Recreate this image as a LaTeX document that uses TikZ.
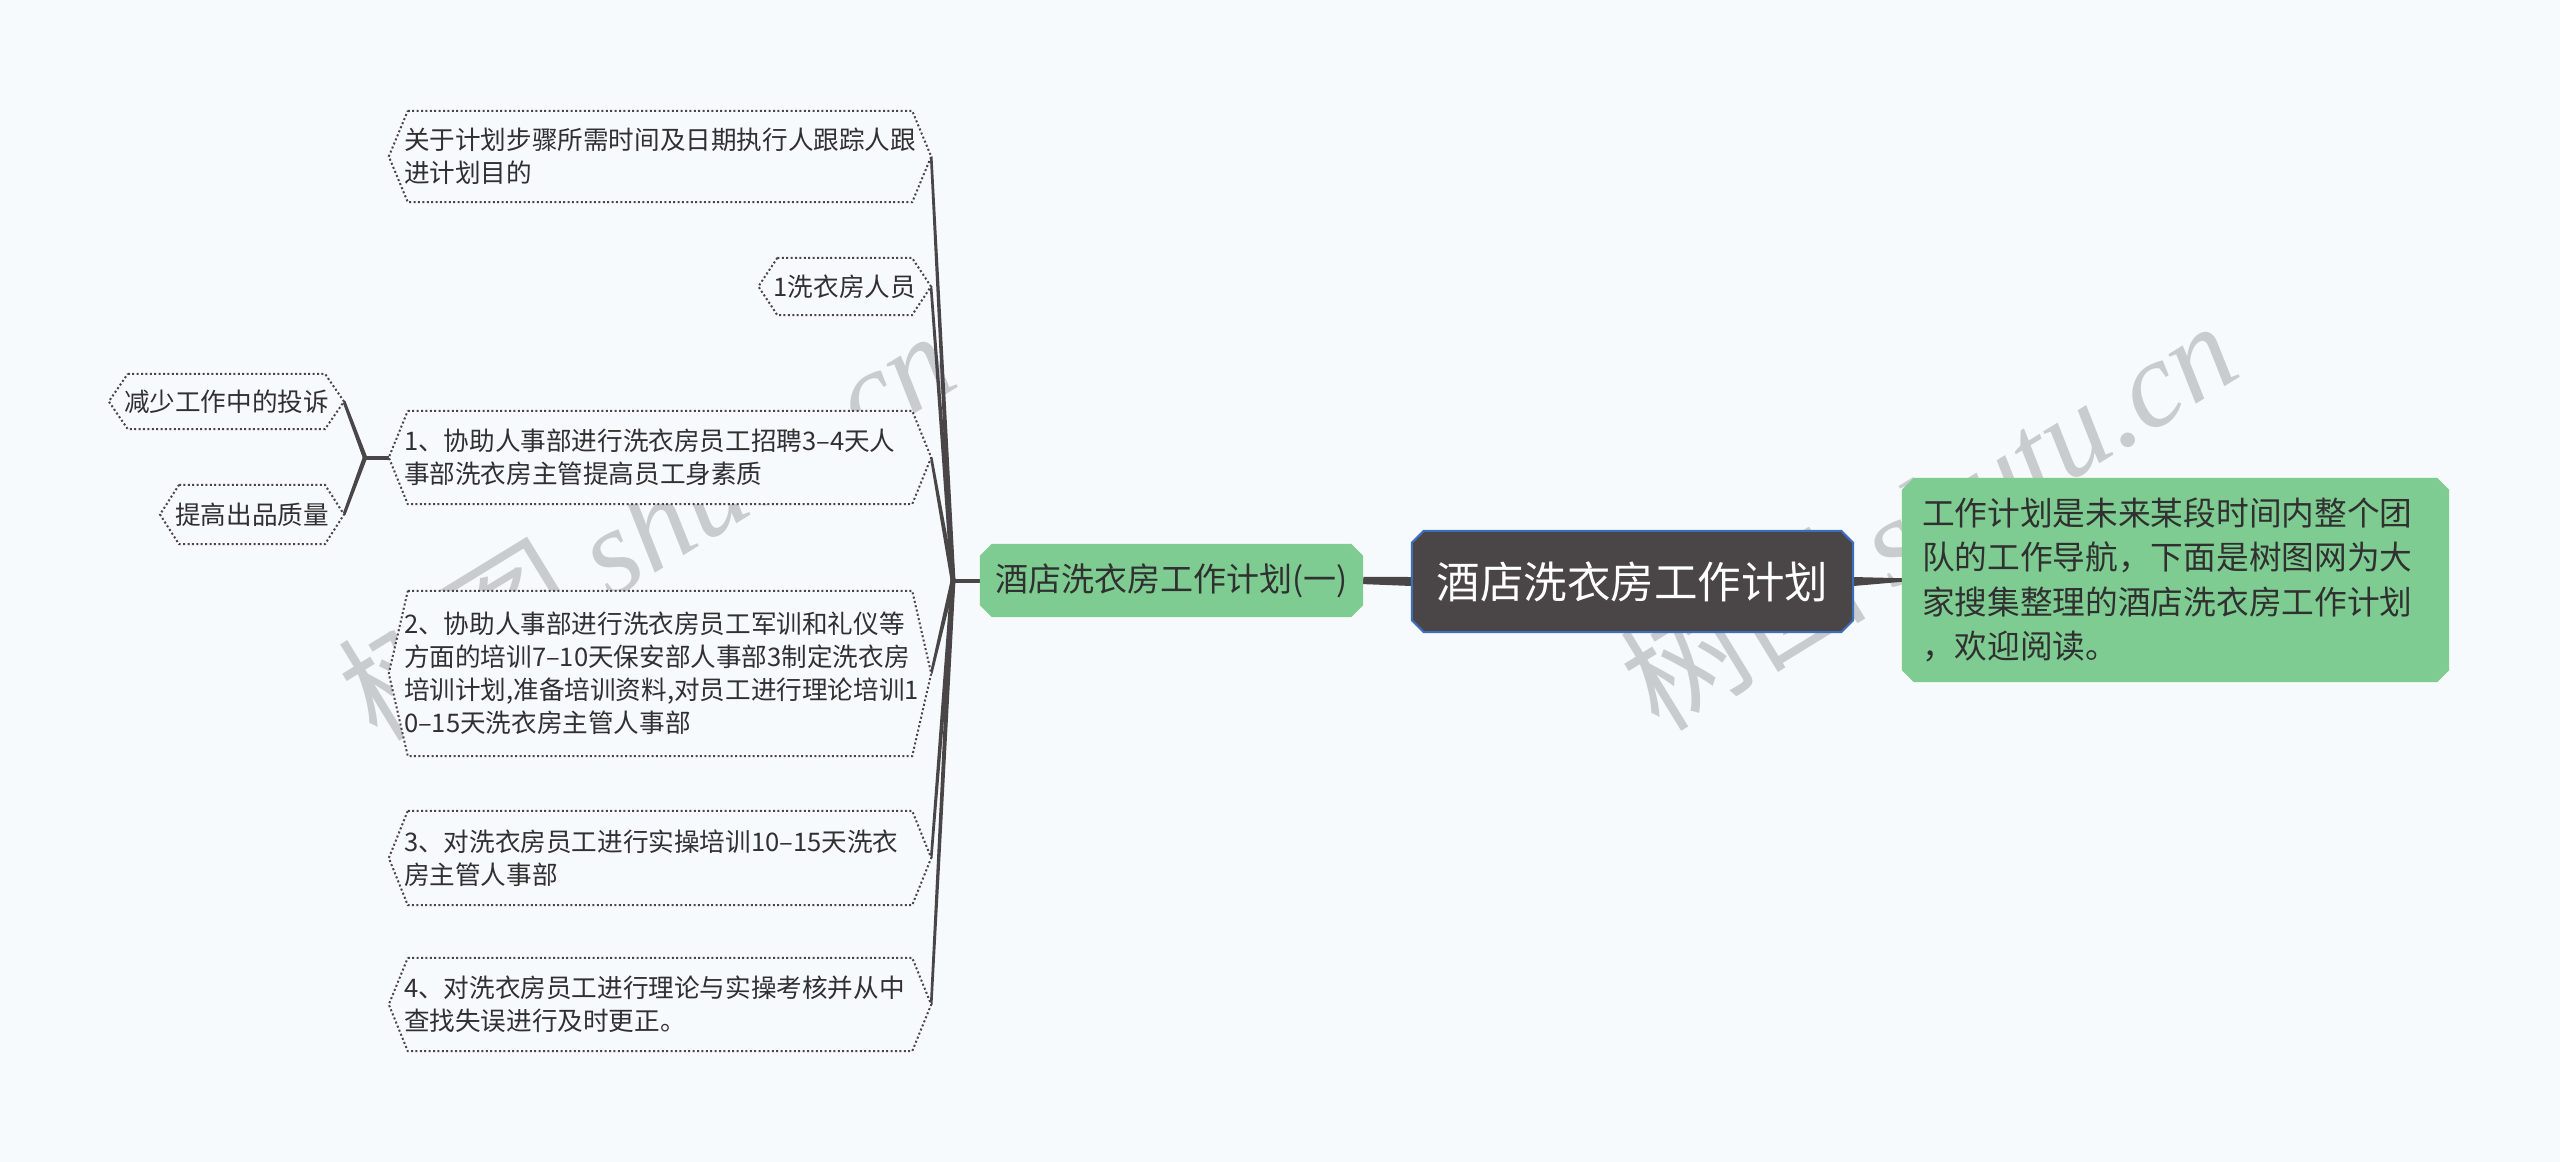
\documentclass[tikz,border=0pt]{standalone}
\usepackage{fontspec}
\setmainfont{Noto Sans CJK SC}
\newfontfamily\wmlatin{Liberation Serif}
\usetikzlibrary{calc}
\definecolor{bgc}{HTML}{F6FAFC}
\definecolor{linkc}{HTML}{4A4547}
\definecolor{rootc}{HTML}{4A4547}
\definecolor{rootb}{HTML}{3D6EBA}
\definecolor{greenc}{HTML}{7FCC92}
\definecolor{txtc}{HTML}{303030}
\definecolor{wmc}{HTML}{C8CCCF}
\pgfdeclarelayer{wm}\pgfdeclarelayer{conn}\pgfdeclarelayer{shp}
\pgfsetlayers{wm,conn,shp,main}
\newcommand\taperline[4]{\fill[linkc] ($(#1)!#3!90:(#2)$) -- ($(#2)!#4!-90:(#1)$) -- ($(#2)!#4!90:(#1)$) -- ($(#1)!#3!-90:(#2)$) -- cycle;}
\newcommand\hexa[1]{%
  \coordinate (#1R) at ($(#1.east)+(15,0)$);
  \coordinate (#1L) at ($(#1.west)+(-15,0)$);
  \begin{pgfonlayer}{shp}
  \path[leafline] ($(#1.north west)+(4,0)$) -- ($(#1.north east)+(-4,0)$) -- (#1R) -- ($(#1.south east)+(-4,0)$) -- ($(#1.south west)+(4,0)$) -- (#1L) -- cycle;
  \end{pgfonlayer}}
\newcommand\octa[3]{%
  \begin{pgfonlayer}{shp}
  \path[#3] ($(#1.north west)+(#2,0)$) -- ($(#1.north east)+(-#2,0)$) -- ($(#1.north east)+(0,-#2)$) -- ($(#1.south east)+(0,#2)$) -- ($(#1.south east)+(-#2,0)$) -- ($(#1.south west)+(#2,0)$) -- ($(#1.south west)+(0,#2)$) -- ($(#1.north west)+(0,-#2)$) -- cycle;
  \end{pgfonlayer}}
\tikzset{
  leaftext/.style={text=txtc, inner xsep=0pt, inner ysep=0pt, align=left, font=\fontsize{25.6}{33}\selectfont},
  leafline/.style={draw=linkc, fill=bgc, line width=2pt, dash pattern=on 2pt off 2.4pt},
  wmstyle/.style={text=wmc, font=\fontsize{123}{130}\selectfont, inner sep=0pt},
}
\begin{document}
\begin{tikzpicture}[x=1pt,y=1pt]
\begin{pgfonlayer}{wm}
\fill[bgc] (0,0) rectangle (2560,-1162);
\node[wmstyle, rotate=31.5] (wm1) at (646,-524) {树图 {\wmlatin\itshape shutu.cn}};
\node[wmstyle, rotate=31.5] (wm2) at (1928,-514) {树图 {\wmlatin\itshape shutu.cn}};
\end{pgfonlayer}
\useasboundingbox (0,0) rectangle (2560,-1162);

% central nodes
\node[text=white, font=\fontsize{43.5}{50}\selectfont, minimum width=441pt, minimum height=101pt, inner sep=0pt] (root) at (1632.5,-581.5) {酒店洗衣房工作计划};
\octa{root}{12}{fill=rootc, draw=rootb, line width=2pt}

\node[text=txtc, font=\fontsize{33}{38}\selectfont, minimum width=383pt, minimum height=73pt, inner sep=0pt] (sub) at (1171.5,-580.5) {酒店洗衣房工作计划(一)};
\octa{sub}{12}{fill=greenc}

\node[text=txtc, font=\fontsize{32.7}{44.6}\selectfont, text width=507pt, inner xsep=20pt, inner ysep=0pt, minimum height=204pt, align=left] (note) at (2175.5,-580) {工作计划是未来某段时间内整个团\\队的工作导航，下面是树图网为大\\家搜集整理的酒店洗衣房工作计划\\，欢迎阅读。};
\octa{note}{12}{fill=greenc}

% leaves
\node[leaftext, text width=512pt, minimum height=91pt] (la) at (660,-156.5) {关于计划步骤所需时间及日期执行人跟踪人跟\\进计划目的};
\hexa{la}
\node[leaftext, anchor=east, minimum height=57pt] (lb) at (916,-286.5) {1洗衣房人员};
\hexa{lb}
\node[leaftext, text width=512pt, minimum height=93pt] (lc) at (660,-457.5) {1、协助人事部进行洗衣房员工招聘3–4天人\\事部洗衣房主管提高员工身素质};
\hexa{lc}
\node[leaftext, text width=512pt, minimum height=165pt] (ld) at (660,-673.5) {2、协助人事部进行洗衣房员工军训和礼仪等\\方面的培训7–10天保安部人事部3制定洗衣房\\培训计划,准备培训资料,对员工进行理论培训1\\0–15天洗衣房主管人事部};
\hexa{ld}
\node[leaftext, text width=512pt, minimum height=94pt] (le) at (660,-858) {3、对洗衣房员工进行实操培训10–15天洗衣\\房主管人事部};
\hexa{le}
\node[leaftext, text width=512pt, minimum height=93pt] (lf) at (660,-1004.5) {4、对洗衣房员工进行理论与实操考核并从中\\查找失误进行及时更正。};
\hexa{lf}
\node[leaftext, anchor=east, minimum height=55pt] (lg) at (329,-401.5) {减少工作中的投诉};
\hexa{lg}
\node[leaftext, anchor=east, minimum height=59pt] (lh) at (329,-514.5) {提高出品质量};
\hexa{lh}

\coordinate (j1) at (953,-580.5);
\coordinate (j2) at (365,-457.5);

\begin{pgfonlayer}{conn}
\taperline{root.east}{note.west}{4.5pt}{1.8pt}
\taperline{root.west}{sub.east}{4.5pt}{3.6pt}
\taperline{sub.west}{j1}{2pt}{2pt}
\taperline{j1}{laR}{2.4pt}{1.3pt}
\taperline{j1}{lbR}{2.4pt}{1.3pt}
\taperline{j1}{lcR}{2.4pt}{1.3pt}
\taperline{j1}{ldR}{2.4pt}{1.3pt}
\taperline{j1}{leR}{2.4pt}{1.3pt}
\taperline{j1}{lfR}{2.4pt}{1.3pt}
\taperline{lcL}{j2}{2pt}{2pt}
\taperline{j2}{lgR}{2.2pt}{1.5pt}
\taperline{j2}{lhR}{2.2pt}{1.5pt}
\end{pgfonlayer}
\end{tikzpicture}
\end{document}
